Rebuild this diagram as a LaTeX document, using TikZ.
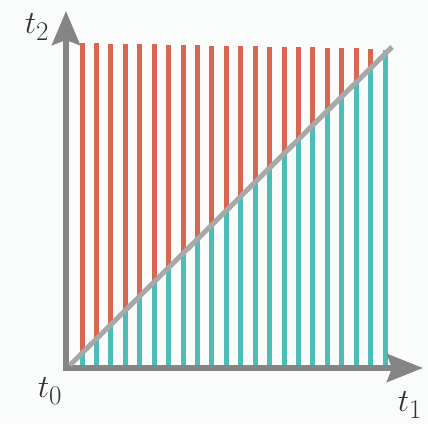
\documentclass[tikz,border=0pt]{standalone}
\usepackage{graphicx}
\usetikzlibrary{arrows.meta}
\definecolor{stripered}{HTML}{D66852}
\definecolor{stripeteal}{HTML}{4DBDB7}
\definecolor{axisgray}{HTML}{858585}
\definecolor{diaggray}{HTML}{A8A8A8}
\definecolor{bgcol}{HTML}{FAFCFB}
\newcommand{\biglbl}[1]{\scalebox{1.3}{\Huge$#1$}}
\begin{document}
\begin{tikzpicture}[x=1pt,y=-1pt,
  stripe/.style={line width=5pt},
  axis/.style={draw=axisgray,line width=5.5pt,line join=miter,
    {Stealth[length=34pt,width=28pt,inset=5pt]}-{Stealth[length=36pt,width=28pt,inset=5pt]}},
  diag/.style={draw=diaggray,line width=5pt},
  lbl/.style={text=black!80,inner sep=0pt}]
\useasboundingbox (0,0) rectangle (428,424);
\fill[bgcol] (0,0) rectangle (428,424);
\foreach \i in {0,...,21} {
  \pgfmathsetmacro\xx{82+\i*14.43}
  \pgfmathsetmacro\tp{43+\i*0.28}
  \pgfmathsetmacro\dd{max(\tp,366-(\xx-70)*0.9876)}
  \ifnum\i<21
    \draw[stripe,stripered] (\xx,\tp) -- (\xx,\dd);
    \draw[stripe,stripeteal] (\xx,\dd) -- (\xx,366);
  \else
    \draw[stripe,stripeteal] (\xx,50) -- (\xx,366);
  \fi
}
\coordinate (ytip) at (66,11);
\coordinate (o) at (66,368);
\coordinate (xtip) at (423,368);
\coordinate (dstart) at (70,365);
\coordinate (dend) at (392,47);
\draw[axis] (ytip) -- (o) -- (xtip);
\draw[diag] (dstart) -- (dend);
\node[lbl] (t2) at (37,27) {\biglbl{t_2}};
\node[lbl] (t0) at (50,391) {\biglbl{t_0}};
\node[lbl] (t1) at (410,405) {\biglbl{t_1}};
\end{tikzpicture}
\end{document}
